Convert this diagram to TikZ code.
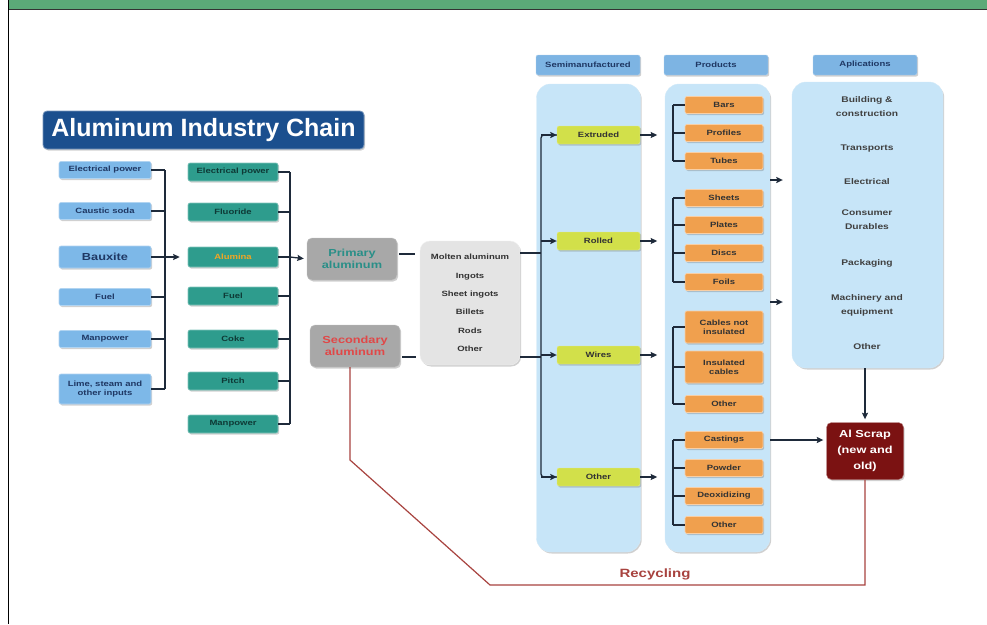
\documentclass[tikz,border=0pt]{standalone}
\usepackage{fontspec}
\setmainfont{Liberation Sans}
\newfontfamily\wf[FakeStretch=1.25]{Liberation Sans}
\usetikzlibrary{shadows,calc,arrows.meta}
\definecolor{hdrgreen}{HTML}{5BAA78}
\definecolor{titleblue}{HTML}{1B4F8E}
\definecolor{lbfill}{HTML}{7DB8E8}
\definecolor{navytext}{HTML}{1F3864}
\definecolor{tealfill}{HTML}{2E9C8D}
\definecolor{tealtext}{HTML}{0E3A36}
\definecolor{alumorange}{HTML}{F2A623}
\definecolor{greybox}{HTML}{A8A8A8}
\definecolor{bigbox}{HTML}{E4E4E4}
\definecolor{primtext}{HTML}{2A8F88}
\definecolor{sectext}{HTML}{E04848}
\definecolor{hdrblue}{HTML}{7DB4E3}
\definecolor{panelblue}{HTML}{C7E5F8}
\definecolor{yellowfill}{HTML}{D2E04A}
\definecolor{orangefill}{HTML}{F0A04E}
\definecolor{scrapred}{HTML}{7B1212}
\definecolor{recyc}{HTML}{A8433F}
\definecolor{linedark}{HTML}{1E2A3A}
\begin{document}
\begin{tikzpicture}[x=1pt,y=-1pt,
  shad/.style={drop shadow={shadow xshift=1.2pt,shadow yshift=-1.5pt,opacity=0.3,fill=black!60}},
  base/.style={rounded corners=2pt, font=\wf\fontsize{7.6}{9}\selectfont\bfseries, inner sep=1pt, align=center, shad},
  lbox/.style={base, fill=lbfill, draw=lbfill!60!white, line width=0.6pt, text=navytext, minimum width=92, minimum height=17},
  tbox/.style={base, fill=tealfill, draw=tealfill!60!white, line width=0.6pt, text=tealtext, minimum width=90, minimum height=18},
  gbox/.style={base, rounded corners=5pt, fill=greybox, draw=greybox!70!white, font=\wf\fontsize{10.2}{12}\selectfont\bfseries, minimum width=90, minimum height=42},
  hbox/.style={base, fill=hdrblue, draw=hdrblue!60!white, text=navytext, minimum width=104, minimum height=20},
  panel/.style={rounded corners=14pt, fill=panelblue, draw=panelblue!80!white, shad},
  ybox/.style={base, fill=yellowfill, draw=yellowfill!60!white, text=black!80, minimum width=83, minimum height=18},
  obox/.style={base, fill=orangefill, draw=orangefill!50!white, line width=0.7pt, text=black!80, minimum width=78, minimum height=17},
  apptext/.style={font=\wf\fontsize{8.2}{14}\selectfont\bfseries, text=black!75, align=center, inner sep=0pt},
  conn/.style={draw=linedark, line width=1.3pt},
  arr/.style={conn, -{Stealth[length=6.5pt,width=6pt,inset=1pt]}},
  recline/.style={draw=recyc, line width=1.2pt}
]
\useasboundingbox (0,0) rectangle (987,624);
\fill[white] (0,0) rectangle (987,624);
% frame
\fill[hdrgreen] (8,0) rectangle (987,9);
\draw[black!80, line width=1.5pt] (8,9.5) -- (987,9.5);
\draw[black, line width=1.5pt] (8.5,0) -- (8.5,624);

% title
\node[rounded corners=4pt, fill=titleblue, draw=titleblue!60!white, line width=0.8pt, shad,
      minimum width=321, minimum height=38, text=white, font=\fontsize{25}{28}\selectfont\bfseries,
      inner sep=0pt] (title) at (203.5,130) {Aluminum Industry Chain};

% left inputs
\node[lbox] (l1) at (105,170) {Electrical power};
\node[lbox] (l2) at (105,211) {Caustic soda};
\node[lbox, minimum height=22, font=\wf\fontsize{10.2}{12}\selectfont\bfseries] (l3) at (105,257) {Bauxite};
\node[lbox] (l4) at (105,297) {Fuel};
\node[lbox] (l5) at (105,339) {Manpower};
\node[lbox, minimum height=30] (l6) at (105,389) {Lime, steam and\\other inputs};

% teal inputs
\node[tbox] (t1) at (233,172) {Electrical power};
\node[tbox] (t2) at (233,212) {Fluoride};
\node[tbox, minimum height=20, text=alumorange] (t3) at (233,257) {Alumina};
\node[tbox] (t4) at (233,296) {Fuel};
\node[tbox] (t5) at (233,339) {Coke};
\node[tbox] (t6) at (233,381) {Pitch};
\node[tbox] (t7) at (233,424) {Manpower};

% primary / secondary
\node[gbox, text=primtext] (prim) at (352,259) {Primary\\aluminum};
\node[gbox, text=sectext] (sec) at (355,346) {Secondary\\aluminum};
\node[base, rounded corners=10pt, fill=bigbox, draw=bigbox!60!white, minimum width=100, minimum height=124,
      font=\wf\fontsize{7.6}{18.4}\selectfont\bfseries, text=black!80] (big) at (470,303) {Molten aluminum\\Ingots\\Sheet ingots\\Billets\\Rods\\Other};

% headers and panels
\node[hbox] (h1) at (588,65) {Semimanufactured};
\node[hbox] (h2) at (716,65) {Products};
\node[hbox] (h3) at (865,65) {Aplications};
\node[panel, minimum width=104, minimum height=468, inner sep=0pt] (p1) at (588.5,318) {};
\node[panel, minimum width=105, minimum height=468, inner sep=0pt] (p2) at (717.5,318) {};
\node[panel, minimum width=151, minimum height=286, inner sep=0pt] (p3) at (867.5,225) {};

% semimanufactured
\node[ybox] (y1) at (598.5,135) {Extruded};
\node[ybox] (y2) at (598.5,241) {Rolled};
\node[ybox] (y3) at (598.5,355) {Wires};
\node[ybox] (y4) at (598.5,477) {Other};

% products
\node[obox] (o1) at (724,105) {Bars};
\node[obox] (o2) at (724,133) {Profiles};
\node[obox] (o3) at (724,161) {Tubes};
\node[obox] (o4) at (724,198) {Sheets};
\node[obox] (o5) at (724,225) {Plates};
\node[obox] (o6) at (724,253) {Discs};
\node[obox] (o7) at (724,282) {Foils};
\node[obox, minimum height=32] (o8) at (724,327) {Cables not\\insulated};
\node[obox, minimum height=32] (o9) at (724,367) {Insulated\\cables};
\node[obox] (o10) at (724,404) {Other};
\node[obox] (o11) at (724,440) {Castings};
\node[obox] (o12) at (724,468) {Powder};
\node[obox] (o13) at (724,496) {Deoxidizing};
\node[obox] (o14) at (724,525) {Other};

% applications
\node[apptext] (a1) at (867,107) {Building \&\\construction};
\node[apptext] (a2) at (867,149) {Transports};
\node[apptext] (a3) at (867,182) {Electrical};
\node[apptext] (a4) at (867,220) {Consumer\\Durables};
\node[apptext] (a5) at (867,263) {Packaging};
\node[apptext] (a6) at (867,305) {Machinery and\\equipment};
\node[apptext] (a7) at (867,347) {Other};

% scrap
\node[base, rounded corners=5pt, fill=scrapred, draw=scrapred!60!white, text=white,
      font=\wf\fontsize{10.2}{16}\selectfont\bfseries, minimum width=77, minimum height=57] (scrap) at (865,451) {Al Scrap\\(new and\\old)};

% bus 1
\coordinate (b1) at (165,0);
\foreach \n in {l1,l2,l3,l4,l5,l6} \draw[conn] (\n.east) -- (\n.east -| b1);
\draw[conn] (l1.east -| b1) -- (l6.east -| b1);
\draw[arr, shorten >=8pt] (l3.east -| b1) -- (t3.west);

% bus 2
\coordinate (b2) at (290,0);
\foreach \n in {t1,t2,t3,t4,t5,t6,t7} \draw[conn] (\n.east) -- (\n.east -| b2);
\draw[conn] (t1.east -| b2) -- (t7.east -| b2);
\draw[arr, shorten >=3pt] (t3.east -| b2) -- (prim.west);

% primary / secondary to big box
\draw[conn] ($(prim.east)+(2,-5)$) -- ($(big.west |- prim.east)+(-5,-5)$);
\draw[conn] ($(sec.east)+(2,11)$) -- ($(big.west |- sec.east)+(-4,11)$);

% bus 3
\coordinate (b3) at (541,0);
\coordinate (bb1) at (big.east |- 0,253);
\coordinate (bb2) at (big.east |- 0,357);
\draw[conn] (bb1) -- (bb1 -| b3);
\draw[conn] (bb2) -- (bb2 -| b3);
\draw[conn, rounded corners=3pt] (y1.west) -- (y1.west -| b3) -- (y4.west -| b3) -- (y4.west);
\foreach \n in {y1,y2,y3,y4} \draw[arr] (\n.west -| b3) -- (\n.west);

% semimanufactured to products
\coordinate (b4) at (673,0);
\foreach \n in {y1,y2,y3,y4} \draw[arr, shorten >=1pt] (\n.east) -- ++(18,0);
\draw[conn] (o1.west -| b4) -- (o3.west -| b4);
\draw[conn] (o4.west -| b4) -- (o7.west -| b4);
\draw[conn] (o8.west -| b4) -- (o10.west -| b4);
\draw[conn] (o11.west -| b4) -- (o14.west -| b4);
\foreach \n in {o1,o2,o3,o4,o5,o6,o7,o8,o9,o10,o11,o12,o13,o14} \draw[conn] (\n.west -| b4) -- (\n.west);

% products to applications / scrap
\draw[arr, shorten >=9pt] (p2.east |- 0,180) -- (p3.west |- 0,180);
\draw[arr, shorten >=9pt] (p2.east |- 0,302) -- (p3.west |- 0,302);
\draw[arr, shorten >=3pt] (p2.east |- o11.east) -- (scrap.west |- o11.east);
\draw[arr, shorten >=3pt] (p3.south -| scrap.north) -- (scrap.north);

% recycling
\coordinate (r1) at (865,585);
\coordinate (r2) at (490,585);
\coordinate (r3) at (350,460);
\draw[recline] (scrap.south) -- (scrap.south |- r1) -- (r2) -- (r3) -- (r3 |- sec.south);
\node[text=recyc, font=\wf\fontsize{12}{14}\selectfont\bfseries] (rec) at (655,574) {Recycling};
\end{tikzpicture}
\end{document}
